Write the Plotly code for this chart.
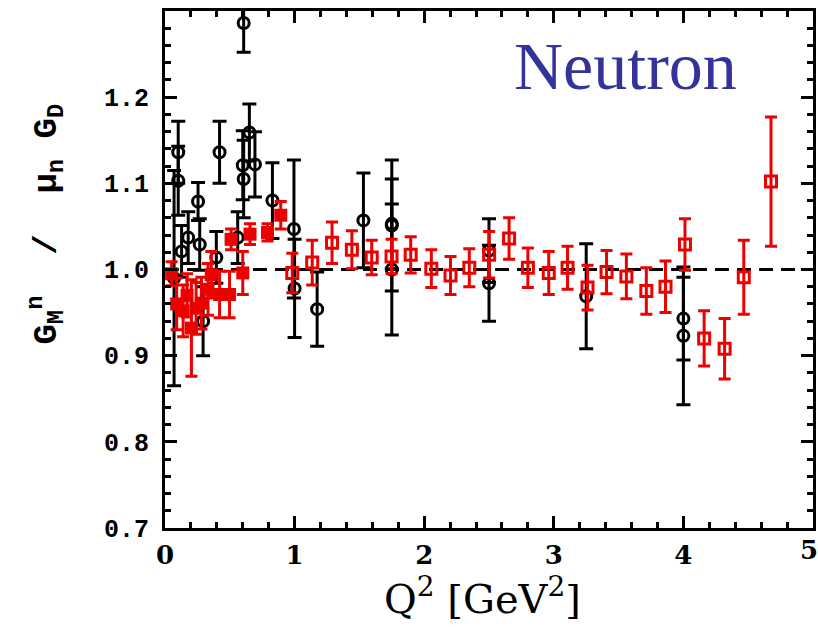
import plotly.graph_objects as go

# ---- data ----
# Black open circles (older measurements)
blk_q2 = [0.607, 0.102, 0.421, 0.651, 0.600, 0.694, 0.607, 0.102, 0.255, 0.829,
          0.179, 0.268, 0.128, 0.396, 0.561, 0.294, 0.995, 1.000, 1.174, 1.531,
          1.750, 1.750, 1.750, 2.500, 2.500, 3.250, 4.000, 4.000, 0.070]
blk_val = [1.286, 1.136, 1.136, 1.159, 1.121, 1.122, 1.105, 1.103, 1.079, 1.080,
           1.037, 1.029, 1.021, 1.014, 1.037, 0.940, 1.047, 0.978, 0.954, 1.057,
           1.051, 1.053, 1.000, 1.022, 0.984, 0.969, 0.943, 0.923, 0.990]
blk_err = [0.034, 0.036, 0.036, 0.033, 0.040, 0.038, 0.045, 0.040, 0.022, 0.044,
           0.030, 0.030, 0.030, 0.030, 0.030, 0.040, 0.080, 0.057, 0.043, 0.055,
           0.076, 0.052, 0.076, 0.037, 0.044, 0.061, 0.048, 0.080, 0.125]

# Red filled squares (low Q2)
redf_q2 = [0.051, 0.090, 0.140, 0.170, 0.204, 0.240, 0.281, 0.332, 0.357, 0.421,
           0.498, 0.510, 0.600, 0.656, 0.791, 0.893]
redf_val = [0.995, 0.960, 0.952, 0.970, 0.932, 0.955, 0.961, 0.977, 0.994, 0.971,
            0.971, 1.035, 0.996, 1.041, 1.043, 1.063]
redf_err = [0.014, 0.030, 0.030, 0.025, 0.056, 0.030, 0.030, 0.030, 0.027, 0.027,
            0.027, 0.012, 0.025, 0.012, 0.010, 0.016]

# Red open squares (high Q2)
redo_q2 = [0.982, 1.136, 1.289, 1.442, 1.595, 1.748, 1.896, 2.055, 2.203, 2.348,
           2.501, 2.655, 2.800, 2.961, 3.106, 3.260, 3.407, 3.560, 3.714, 3.862,
           4.012, 4.160, 4.318, 4.466, 4.676]
redo_val = [0.996, 1.008, 1.031, 1.023, 1.014, 1.015, 1.017, 1.001, 0.993, 1.002,
            1.017, 1.036, 1.002, 0.996, 1.002, 0.979, 0.997, 0.992, 0.975, 0.980,
            1.029, 0.920, 0.908, 0.991, 1.102]
redo_err = [0.023, 0.026, 0.024, 0.022, 0.020, 0.020, 0.021, 0.022, 0.022, 0.022,
            0.027, 0.024, 0.023, 0.025, 0.025, 0.026, 0.025, 0.026, 0.027, 0.030,
            0.030, 0.032, 0.035, 0.043, 0.075]

x_ticks = [0, 1, 2, 3, 4, 5]
y_ticks = [0.7, 0.8, 0.9, 1.0, 1.1, 1.2]
y_tick_text = ["0.7", "0.8", "0.9", "1.0", "1.1", "1.2"]

BLACK = "#000000"
RED = "#ec0000"

fig = go.Figure()

fig.add_trace(go.Scatter(
    x=blk_q2, y=blk_val, mode="markers",
    marker=dict(symbol="circle-open", size=11, color=BLACK, line=dict(width=3, color=BLACK)),
    error_y=dict(type="data", array=blk_err, visible=True, color=BLACK, thickness=3, width=7),
    showlegend=False,
))
fig.add_trace(go.Scatter(
    x=redf_q2, y=redf_val, mode="markers",
    marker=dict(symbol="square", size=13, color=RED, line=dict(width=0)),
    error_y=dict(type="data", array=redf_err, visible=True, color=RED, thickness=3, width=6),
    showlegend=False,
))
fig.add_trace(go.Scatter(
    x=redo_q2, y=redo_val, mode="markers",
    marker=dict(symbol="square-open", size=11, color=RED, line=dict(width=3, color=RED)),
    error_y=dict(type="data", array=redo_err, visible=True, color=RED, thickness=3, width=6),
    showlegend=False,
))

# dashed reference line at 1.0
fig.add_shape(type="line", x0=0, x1=5, y0=1.0, y1=1.0, xref="x", yref="y",
              line=dict(color=BLACK, width=2.8, dash="14px,8px"), layer="below")

L, R, T, B = 165, 2, 11, 103
W, H = 818, 631
pw = W - L - R
ph = H - T - B

XFONT = dict(family="DejaVu Serif", size=26, color=BLACK, weight="bold")

fig.update_layout(
    width=W, height=H,
    margin=dict(l=L, r=R, t=T, b=B, pad=0),
    paper_bgcolor="white", plot_bgcolor="white",
    showlegend=False,
    xaxis=dict(
        range=[0, 5], tickmode="array", tickvals=x_ticks,
        ticktext=[str(v) for v in x_ticks],
        ticks="inside", ticklen=12, tickwidth=2.8, tickcolor=BLACK,
        minor=dict(dtick=0.2, ticks="inside", ticklen=6, tickwidth=2.8, tickcolor=BLACK, showgrid=False),
        showline=True, linewidth=3, linecolor=BLACK, mirror="allticks",
        showgrid=False, zeroline=False,
        tickfont=XFONT,
        ticklabelstandoff=2,
    ),
    yaxis=dict(
        range=[0.7, 1.3], tickmode="array", tickvals=y_ticks, ticktext=y_tick_text,
        ticks="inside", ticklen=12, tickwidth=2.8, tickcolor=BLACK,
        minor=dict(dtick=0.02, ticks="inside", ticklen=6, tickwidth=2.8, tickcolor=BLACK, showgrid=False),
        showline=True, linewidth=3, linecolor=BLACK, mirror="allticks",
        showgrid=False, zeroline=False,
        tickfont=dict(family="Liberation Mono", size=25, color=BLACK, weight="bold"),
        ticklabelstandoff=8,
    ),
)

def px_to_paper(px, py):
    return (px - L) / pw, (H - B - py) / ph

# tick label "5" at the right edge (partly cut off, as in the original)
ax, ay = px_to_paper(812, 550)
fig.add_annotation(text=str(x_ticks[-1]), x=ax, y=ay, xref="paper", yref="paper",
                   xanchor="center", yanchor="middle", showarrow=False, font=XFONT)

ax, ay = px_to_paper(628, 66)
fig.add_annotation(text="Neutron", x=ax, y=ay, xref="paper", yref="paper",
                   xanchor="center", yanchor="middle", showarrow=False,
                   font=dict(family="Liberation Serif", size=68, color="#333399"))

ax, ay = px_to_paper(484, 596)
fig.add_annotation(text="Q<sup>2</sup> [GeV<sup>2</sup>]", x=ax, y=ay, xref="paper", yref="paper",
                   xanchor="center", yanchor="middle", showarrow=False,
                   font=dict(family="DejaVu Serif", size=40, color=BLACK))

ax, ay = px_to_paper(45, 224)
fig.add_annotation(text="G<sub>M</sub><sup>n</sup>  /  μ<sub>n</sub> G<sub>D</sub>", x=ax, y=ay,
                   xref="paper", yref="paper", textangle=-90,
                   xanchor="center", yanchor="middle", showarrow=False,
                   font=dict(family="Liberation Mono", size=34, color=BLACK, weight="bold"))

fig.write_html("out.html")
